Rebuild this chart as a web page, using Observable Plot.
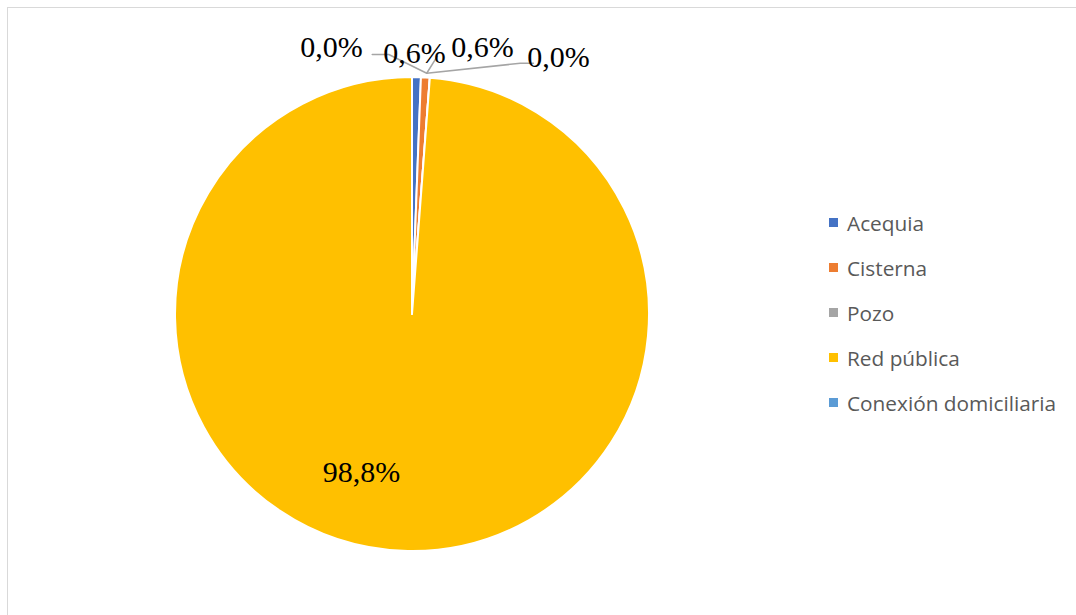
<!DOCTYPE html>
<html><head><meta charset="utf-8">
<script src="https://cdn.jsdelivr.net/npm/d3@7"></script>
<script src="https://cdn.jsdelivr.net/npm/@observablehq/plot@0.6"></script>
<style>
html,body{margin:0;padding:0;background:#fff;}
#wrap{position:relative;width:1076px;height:615px;overflow:hidden;}
#frame{position:absolute;left:7px;top:7px;width:1200px;height:700px;border:1.5px solid #d9d9d9;box-sizing:border-box;}
#legend{position:absolute;left:829px;top:200px;font-family:"Open Sans",sans-serif;font-size:20.8px;color:#595959;}
#legend .row{height:45px;display:flex;align-items:center;white-space:nowrap;}
#legend .sw{width:9px;height:9px;margin-right:9px;}
#chart{position:absolute;left:0;top:0;}
</style></head>
<body><div id="wrap"><div id="frame"></div><div id="chart"></div><div id="legend"></div></div>
<script>
const categories = ["Acequia","Cisterna","Pozo","Red pública","Conexión domiciliaria"];
const values = [0.6, 0.6, 0.0, 98.8, 0.0];
const labels = ["0,6%","0,6%","0,0%","98,8%","0,0%"];
const colors = ["#4472C4","#ED7D31","#A5A5A5","#FFC000","#5B9BD5"];
// label anchor positions in unit-circle coordinates (radius = 1)
const labelX = [0.008, 0.295, 0.616, -0.215, -0.342];
const labelY = [1.103, 1.127, 1.085, -0.665, 1.127];

const cx = 412, cy = 314, R = 237;
const data = categories.map((c,i)=>({cat:c, value:values[i], label:labels[i], lx:labelX[i], ly:labelY[i]}));
const arcs = d3.pie().sort(null).value(d=>d.value)(data);

function pieMark(index, scales) {
  const x0 = scales.x(0), y0 = scales.y(0);
  const r = scales.x(1) - x0;
  const arc = d3.arc().innerRadius(0).outerRadius(r);
  const g = d3.create("svg:g").attr("transform", `translate(${x0},${y0})`);
  g.selectAll("path").data(arcs).join("path")
    .attr("d", arc)
    .attr("fill", d => scales.color(d.data.cat))
    .attr("stroke", "#fff").attr("stroke-width", 2).attr("stroke-linejoin","round");
  return g.node();
}

// leader lines (unit coords): from slice edge to labels
const leaderEdge = {x: 0.06, y: 1.018};
const leaders = [
  [{x:leaderEdge.x,y:leaderEdge.y,k:"a"},{x:-0.10,y:1.097,k:"a"},{x:-0.17,y:1.097,k:"a"}],
  [{x:leaderEdge.x,y:leaderEdge.y,k:"b"},{x:0.105,y:1.09,k:"b"}],
  [{x:leaderEdge.x,y:leaderEdge.y,k:"c"},{x:0.455,y:1.06,k:"c"},{x:0.51,y:1.06,k:"c"}]
].flat();

const plot = Plot.plot({
  width: 1076, height: 615,
  margin: 0,
  x: {domain: [-1, 1], range: [cx - R, cx + R], axis: null},
  y: {domain: [-1, 1], range: [cy + R, cy - R], axis: null},
  color: {domain: categories, range: colors},
  marks: [
    pieMark,
    Plot.line(leaders, {x: "x", y: "y", z: "k", stroke: "#a5a5a5", strokeWidth: 1.5}),
    Plot.text(data, {x: "lx", y: "ly", text: "label", fontSize: 30, fill: "#000",
      fontFamily: "Liberation Serif, Times New Roman, serif", textAnchor: "middle"})
  ],
  style: {background: "transparent", overflow: "visible"}
});
document.getElementById("chart").appendChild(plot);

const leg = d3.select("#legend");
categories.forEach((c,i)=>{
  const row = leg.append("div").attr("class","row");
  row.append("div").attr("class","sw").style("background", colors[i]);
  row.append("span").text(c);
});
</script></body></html>
